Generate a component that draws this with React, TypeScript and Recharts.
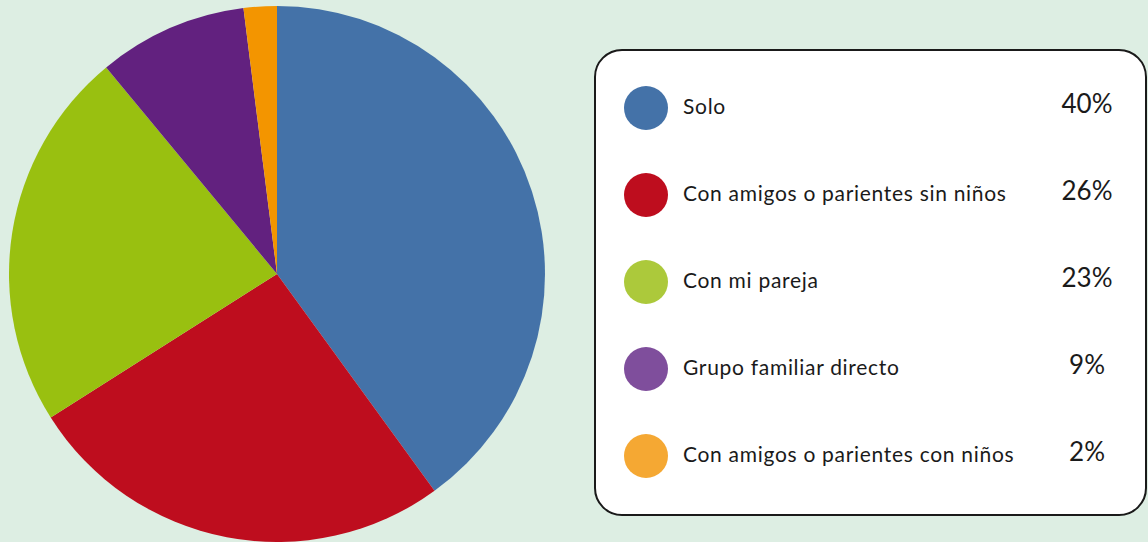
import { PieChart, Pie, Cell, Legend } from 'recharts';

const labels = [
  'Solo',
  'Con amigos o parientes sin niños',
  'Con mi pareja',
  'Grupo familiar directo',
  'Con amigos o parientes con niños',
];
const values = [40, 26, 23, 9, 2];
const pieColors = ['#4472a8', '#be0d1e', '#99c010', '#62217f', '#f39500'];
const legendColors = ['#4472a8', '#be0d1e', '#acc93b', '#7f4e9c', '#f5a833'];

const data = labels.map((name, i) => ({ name, value: values[i] }));

function LegendBox() {
  return (
    <div
      style={{
        position: 'relative',
        width: 549,
        height: 463,
        border: '2px solid #1a1a1a',
        borderRadius: 28,
        background: '#ffffff',
        fontFamily: 'Lato, "Open Sans", sans-serif',
        color: '#1a1a1a',
      }}
    >
      {labels.map((label, i) => (
        <div
          key={label}
          style={{
            position: 'absolute',
            left: 0,
            right: 0,
            top: 57 + i * 87 - 22,
            height: 44,
          }}
        >
          <span
            style={{
              position: 'absolute',
              left: 28,
              top: 0,
              width: 44,
              height: 44,
              borderRadius: '50%',
              background: legendColors[i],
            }}
          />
          <span
            style={{
              position: 'absolute',
              left: 87,
              top: 7,
              fontSize: 21,
              lineHeight: '26px',
              letterSpacing: 0.7,
              whiteSpace: 'nowrap',
            }}
          >
            {label}
          </span>
          <span
            style={{
              position: 'absolute',
              left: 441,
              width: 100,
              top: 1,
              textAlign: 'center',
              fontSize: 26,
              lineHeight: '32px',
            }}
          >
            {values[i]}%
          </span>
        </div>
      ))}
    </div>
  );
}

export default function App() {
  return (
    <div
      style={{
        position: 'absolute',
        left: 0,
        top: 0,
        width: 1148,
        height: 542,
        background: '#ddeee3',
        overflow: 'hidden',
      }}
    >
      <PieChart width={1148} height={542} margin={{ top: 0, right: 0, bottom: 0, left: 0 }}>
        <Pie
          data={data}
          dataKey="value"
          nameKey="name"
          cx={277}
          cy={274}
          outerRadius={268}
          startAngle={90}
          endAngle={-270}
          stroke="none"
          isAnimationActive={false}
        >
          {data.map((d, i) => (
            <Cell key={d.name} fill={pieColors[i]} />
          ))}
        </Pie>
        <Legend
          layout="vertical"
          align="right"
          verticalAlign="top"
          content={() => <LegendBox />}
          wrapperStyle={{ position: 'absolute', left: 594, top: 49, width: 553, height: 467 }}
        />
      </PieChart>
    </div>
  );
}
